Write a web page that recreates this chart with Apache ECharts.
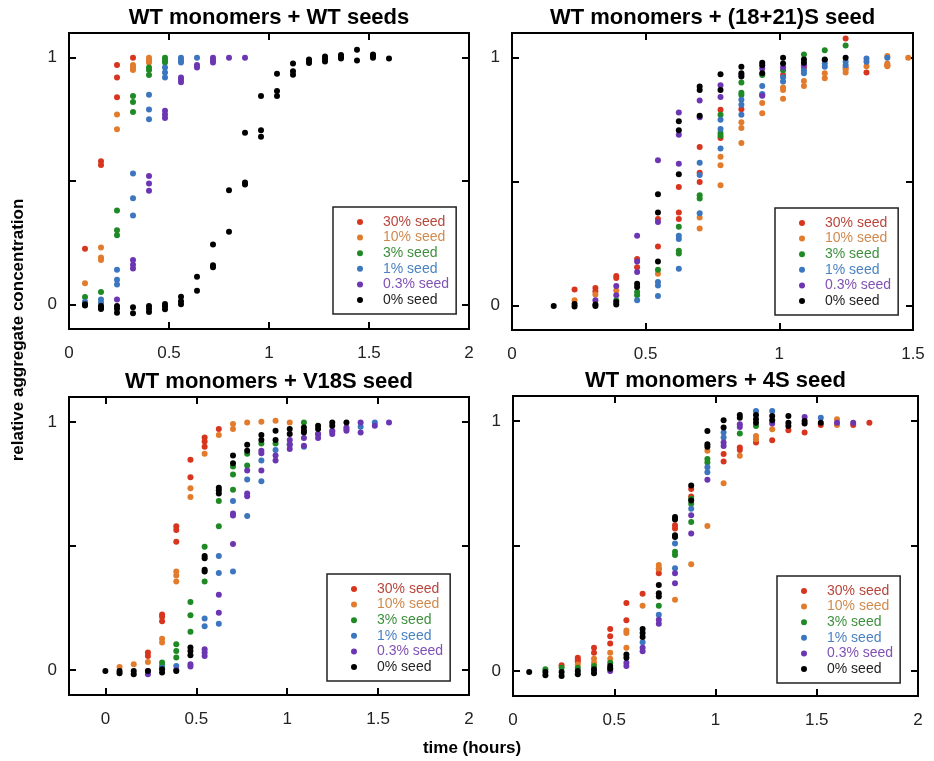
<!DOCTYPE html>
<html>
<head>
<meta charset="utf-8">
<script src="https://cdn.jsdelivr.net/npm/echarts@6/dist/echarts.min.js"></script>
<style>html,body{margin:0;padding:0;background:#fff}#chart{width:934px;height:761px}</style>
</head>
<body>
<div id="chart"></div>
<script>
// series names / colours (same for all four panels)
var seedNames = ['30% seed', '10% seed', '3% seed', '1% seed', '0.3% seed', '0% seed'];
var seedColors = ['#d8351e', '#e27c2c', '#1f8a25', '#3b76bf', '#6c36b2', '#000000'];
var seedTextColors = ['#b8453a', '#cf8a4e', '#3d8f3d', '#4a82c2', '#8152b5', '#222222'];

// each series: one list of replicate readings per time point
// --- WT monomers + WT seeds
var timeA = [0.08, 0.16, 0.24, 0.32, 0.40, 0.48, 0.56, 0.64, 0.72, 0.80, 0.88, 0.96, 1.04, 1.12, 1.20, 1.28, 1.36, 1.44, 1.52, 1.60];
var a30 = [[0.225], [0.58, 0.565], [0.97, 0.92, 0.84], [1.0]];
var a10 = [[0.085], [0.23, 0.19, 0.18], [0.77, 0.71], [0.97, 0.96, 0.95], [1.0, 0.99, 0.98]];
var a3 = [[0.03], [0.05], [0.38, 0.30, 0.28], [0.845, 0.82, 0.78], [0.96, 0.95, 0.93], [1.0, 0.99, 0.98]];
var a1 = [[0.01], [0.02, 0.005], [0.14, 0.10, 0.08], [0.53, 0.43, 0.36], [0.85, 0.79, 0.75], [0.96, 0.94, 0.92], [1.0, 0.99, 0.98], [1.0]];
var a03 = [[], [], [0.02], [0.18, 0.16, 0.145], [0.52, 0.49, 0.46], [0.785, 0.77, 0.755], [0.92, 0.91, 0.90], [0.97, 0.96], [1.0, 0.99, 0.98], [1.0], [1.0]];
var a0 = [[0, -0.005], [-0.007, -0.013, -0.019], [-0.007, -0.018, -0.034], [-0.012, -0.036], [-0.007, -0.018, -0.031],
  [0.001, -0.009, -0.02], [0.031, 0.012, 0], [0.112, 0.055], [0.243, 0.158, 0.15], [0.463, 0.294], [0.696, 0.494, 0.486],
  [0.845, 0.706, 0.679], [0.935, 0.865, 0.845], [0.976, 0.945, 0.931], [0.993, 0.985, 0.978], [1.005, 0.995, 0.984],
  [1.011, 1.003, 0.997], [1.032, 0.989], [1.013, 1.007, 1.0], [0.997]];

// --- WT monomers + (18+21)S seed
var timeB = [0.156, 0.234, 0.312, 0.39, 0.468, 0.546, 0.624, 0.702, 0.78, 0.858, 0.936, 1.014, 1.092, 1.17, 1.248, 1.326, 1.404, 1.482];
var b30 = [[], [0.064], [0.07, 0.056], [0.118, 0.11], [0.187, 0.154], [0.348, 0.237], [0.478, 0.375, 0.348], [0.639, 0.535, 0.498],
  [0.79, 0.676], [0.792], [0.85], [0.93], [0.96], [0.99], [1.078, 0.96], [0.94], [0.97]];
var b10 = [[], [0.02], [0.043], [0.06], [], [0.127], [], [0.355, 0.31], [0.6, 0.566, 0.485], [0.739, 0.716, 0.656], [0.817, 0.776],
  [0.88, 0.87, 0.834], [0.906, 0.886], [0.937, 0.917], [0.953, 0.94], [0.966], [1.007, 0.977, 0.966], [1.0]];
var b3 = [[], [], [], [0.02], [0.054, 0.04], [0.143], [0.317, 0.22, 0.209], [0.444, 0.431], [0.77, 0.696, 0.685], [0.9, 0.859, 0.85],
  [0.93], [0.95], [1.013], [1.03], [1.05]];
var b1 = [[], [], [], [], [0.02], [0.094, 0.08, 0.037], [0.281, 0.268, 0.147], [0.576, 0.526, 0.372], [0.75, 0.712, 0.633],
  [0.83, 0.81, 0.77], [0.886, 0.854], [0.921, 0.904], [0.95, 0.937], [0.977, 0.964], [0.984, 0.97], [0.997, 0.984], [1.0]];
var b03 = [[], [], [0.02], [0.078, 0.04], [0.281, 0.177, 0.134], [0.586, 0.336], [0.779, 0.689, 0.572], [0.827, 0.76],
  [0.889, 0.841], [0.93], [0.957, 0.846], [0.961], [0.97]];
var b0 = [[-0.003], [0.005, -0.005], [0.003, -0.003], [0.013, 0.003], [0.087, 0.074], [0.448, 0.375, 0.177], [0.743, 0.707, 0.529],
  [0.884, 0.87, 0.766], [0.933, 0.87], [0.964, 0.937, 0.924], [0.98, 0.97, 0.937], [1.0, 0.977], [0.993, 0.98], [0.993], [1.0]];

// --- WT monomers + V18S seed
var timeC = [0, 0.078, 0.156, 0.234, 0.312, 0.39, 0.468, 0.546, 0.624, 0.702, 0.78, 0.858, 0.936, 1.014, 1.092, 1.17, 1.248, 1.326, 1.404, 1.482, 1.56];
var c30 = [[], [], [], [0.071, 0.057], [0.224, 0.215, 0.197], [0.58, 0.564, 0.517], [0.847, 0.777], [0.937, 0.921, 0.9], [0.971]];
var c10 = [[], [0.013], [0.024], [0.033], [0.127, 0.111], [0.397, 0.381, 0.357], [0.733, 0.697], [0.871], [0.947], [0.991, 0.971],
  [0.997], [1.0], [1.004], [0.997]];
var c3 = [[], [], [], [], [0.031, 0.017], [0.104, 0.077, 0.051], [0.275, 0.221, 0.155], [0.497, 0.357], [0.681, 0.58],
  [0.82, 0.788, 0.727], [0.871, 0.824], [0.913], [0.913], [], [0.997]];
var c1 = [[], [], [], [], [0.01], [0.017], [], [0.208, 0.177], [0.46, 0.391, 0.187], [0.681, 0.397], [0.768, 0.621], [0.844, 0.761],
  [0.887], [0.91], [0.9], [0.95], [0.96], [0.97], [0.98], [0.997]];
var c03 = [[], [], [], [-0.003, -0.016], [], [0.001], [0.024, 0.015], [0.084, 0.071, 0.057], [0.304, 0.231], [0.631, 0.623, 0.508],
  [0.804, 0.711, 0.7], [0.884, 0.873, 0.804], [0.864, 0.844], [0.927, 0.908, 0.891], [0.935, 0.904], [0.951, 0.935],
  [0.964, 0.951], [0.977, 0.964], [0.997, 0.957], [0.984], [0.997]];
var c0 = [[-0.003], [-0.003, -0.012], [-0.003, -0.016], [-0.003], [0.004, -0.009], [-0.003], [0.091, 0.077, 0.06],
  [0.46, 0.451, 0.404, 0.397], [0.735, 0.724, 0.711], [0.864, 0.833], [0.908, 0.884], [0.947, 0.927], [0.964, 0.927],
  [0.971, 0.951], [0.977, 0.964, 0.957], [0.984, 0.971], [0.997, 0.984], [0.997]];

// --- WT monomers + 4S seed
var timeD = [0.08, 0.16, 0.24, 0.32, 0.40, 0.48, 0.56, 0.64, 0.72, 0.80, 0.88, 0.96, 1.04, 1.12, 1.20, 1.28, 1.36, 1.44, 1.52, 1.60, 1.68, 1.76];
var d30 = [[], [], [0.023], [0.053, 0.044, 0.037], [0.093, 0.073], [0.168, 0.139, 0.11], [0.272, 0.203], [0.309], [0.408, 0.391],
  [0.583, 0.57], [0.728, 0.698], [], [0.868, 0.838], [0.894, 0.884], [0.914], [0.923], [0.963], [0.954], [0.984], [], [0.984], [0.993]];
var d10 = [[], [], [], [0.026], [0.049, 0.033], [0.073, 0.049], [0.162, 0.152, 0.093], [0.261], [0.424, 0.41], [0.285], [0.427],
  [0.881, 0.58], [0.751], [0.861], [0.94, 0.927], [0.967], [], [], [], [1.007, 0.984]];
var d3 = [[], [0.007], [0.013], [0.013], [0.02], [0.033], [], [], [0.261], [0.477, 0.464], [0.689, 0.669, 0.596], [0.848, 0.834],
  [], [0.95], [0.98]];
var d1 = [[], [], [], [], [], [0.01], [], [0.115], [0.225], [0.51, 0.411], [0.649], [0.815, 0.795], [0.954, 0.934], [], [1.04], [1.04],
  [], [], [1.013]];
var d03 = [[], [], [], [], [0.0], [0.0], [0.033, 0.02], [0.093, 0.079], [0.205, 0.189], [0.391, 0.351], [0.623, 0.55], [0.765],
  [0.914, 0.9], [0.987, 0.976], [], [0.99], [], [1.016], [], [0.993], [0.993]];
var d0 = [[-0.004], [-0.004, -0.017], [-0.004, -0.02], [0, -0.013], [0.007, -0.009], [0.02, 0.009], [0.066, 0.053],
  [0.168, 0.152, 0.136], [0.344, 0.311, 0.298], [0.616, 0.606, 0.543, 0.536], [0.742, 0.682], [0.96, 0.907, 0.897],
  [1.003, 0.974], [1.024, 1.013], [1.024, 1.007, 0.993], [1.02, 1.003], [1.02, 0.993, 0.98], [1.0, 0.99], [0.993]];

var panels = [
  {title: 'WT monomers + WT seeds', time: timeA, sets: [a30, a10, a3, a1, a03, a0],
   box: [69, 33, 400, 296], xMin: 0, xMax: 2, xLabels: [0, 0.5, 1, 1.5, 2], xTicks: [0.5, 1, 1.5], legend: [333, 207]},
  {title: 'WT monomers + (18+21)S seed', time: timeB, sets: [b30, b10, b3, b1, b03, b0],
   box: [512, 33, 401, 297], xMin: 0, xMax: 1.5, xLabels: [0, 0.5, 1, 1.5], xTicks: [0.5, 1], legend: [775, 208]},
  {title: 'WT monomers + V18S seed', time: timeC, sets: [c30, c10, c3, c1, c03, c0],
   box: [69, 397, 400, 298], xMin: -0.2, xMax: 2, xLabels: [0, 0.5, 1, 1.5, 2], xTicks: [0, 0.5, 1, 1.5], legend: [327, 574]},
  {title: 'WT monomers + 4S seed', time: timeD, sets: [d30, d10, d3, d1, d03, d0],
   box: [513, 396, 405, 300], xMin: 0, xMax: 2, xLabels: [0, 0.5, 1, 1.5, 2], xTicks: [0.5, 1, 1.5], legend: [777, 576]}
];

function toPoints(time, reps) {
  var pts = [];
  reps.forEach(function (vals, k) {
    vals.forEach(function (v) { pts.push([time[k], v]); });
  });
  return pts;
}

var labelFont = {color: '#222', fontSize: 17, fontFamily: 'Liberation Sans, Arial, sans-serif'};
var tickStyle = {inside: true, length: 7, lineStyle: {color: '#000', width: 2}};
var noLine = {show: false, onZero: false};

var option = {
  animation: false,
  backgroundColor: '#fff',
  grid: [], xAxis: [], yAxis: [], series: [], legend: [], graphic: []
};

panels.forEach(function (p, i) {
  option.grid.push({
    left: p.box[0], top: p.box[1], width: p.box[2], height: p.box[3],
    show: true, borderColor: '#000', borderWidth: 2, containLabel: false, outerBoundsMode: 'none'
  });
  // bottom + top x axes
  option.xAxis.push({
    type: 'value', gridIndex: i, min: p.xMin, max: p.xMax, position: 'bottom',
    splitLine: {show: false}, axisLine: noLine,
    axisTick: Object.assign({customValues: p.xTicks}, tickStyle),
    axisLabel: Object.assign({customValues: p.xLabels, margin: 16}, labelFont)
  });
  option.xAxis.push({
    type: 'value', gridIndex: i, min: p.xMin, max: p.xMax, position: 'top',
    splitLine: {show: false}, axisLine: noLine,
    axisTick: Object.assign({customValues: p.xTicks}, tickStyle),
    axisLabel: {show: false}
  });
  // left + right y axes
  option.yAxis.push({
    type: 'value', gridIndex: i, min: -0.1, max: 1.1, position: 'left',
    splitLine: {show: false}, axisLine: noLine,
    axisTick: Object.assign({customValues: [0, 0.5, 1]}, tickStyle),
    axisLabel: Object.assign({customValues: [0, 1], margin: 12}, labelFont)
  });
  option.yAxis.push({
    type: 'value', gridIndex: i, min: -0.1, max: 1.1, position: 'right',
    splitLine: {show: false}, axisLine: noLine,
    axisTick: Object.assign({customValues: [0, 0.5, 1]}, tickStyle),
    axisLabel: {show: false}
  });

  p.sets.forEach(function (reps, k) {
    option.series.push({
      name: seedNames[k],
      type: 'scatter',
      xAxisIndex: 2 * i,
      yAxisIndex: 2 * i,
      symbol: 'circle',
      symbolSize: 6,
      itemStyle: {color: seedColors[k], opacity: 1},
      data: toPoints(p.time, reps)
    });
  });

  option.legend.push({
    left: p.legend[0], top: p.legend[1],
    orient: 'vertical',
    selectedMode: false,
    icon: 'circle',
    itemWidth: 36, itemHeight: 6, itemGap: 1.6,
    padding: [8, 7, 7, 24],
    borderColor: '#222', borderWidth: 1.5, backgroundColor: '#fff',
    textStyle: {fontSize: 14, lineHeight: 14, fontFamily: 'Liberation Sans, Arial, sans-serif'},
    data: seedNames.map(function (n, k) {
      return {name: n, textStyle: {color: seedTextColors[k]}};
    })
  });

  option.graphic.push({
    type: 'text',
    x: p.box[0] + p.box[2] / 2,
    y: p.box[1] - 15,
    style: {text: p.title, font: 'bold 22px Liberation Sans, Arial, sans-serif', fill: '#000',
            align: 'center', verticalAlign: 'middle'}
  });
});

option.graphic.push({
  type: 'text', x: 18, y: 330, rotation: Math.PI / 2,
  style: {text: 'relative aggregate concentration', font: 'bold 17px Liberation Sans, Arial, sans-serif',
          fill: '#000', align: 'center', verticalAlign: 'middle'}
});
option.graphic.push({
  type: 'text', x: 472, y: 748,
  style: {text: 'time (hours)', font: 'bold 17px Liberation Sans, Arial, sans-serif',
          fill: '#000', align: 'center', verticalAlign: 'middle'}
});

var myChart = echarts.init(document.getElementById('chart'));
myChart.setOption(option);
</script>
</body>
</html>
